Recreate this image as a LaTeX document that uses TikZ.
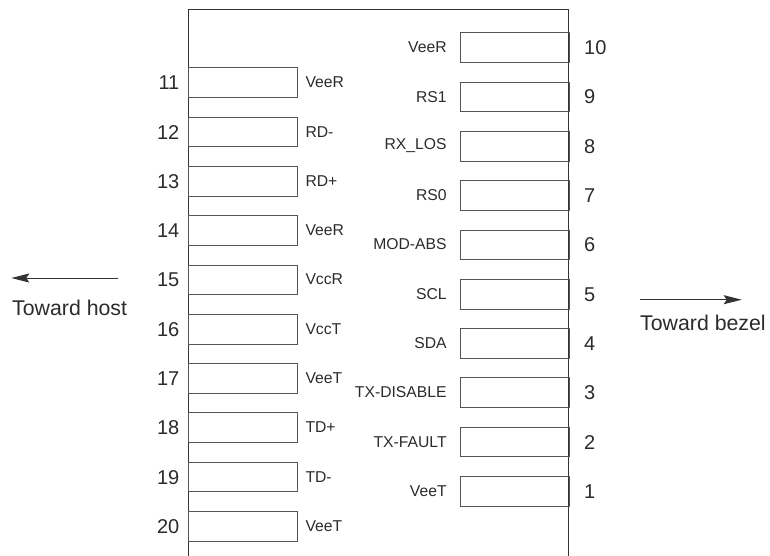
\documentclass[tikz,border=0pt]{standalone}
\usepackage{fontspec}
\setmainfont{Liberation Sans}
\usetikzlibrary{arrows.meta}
\definecolor{linec}{HTML}{333333}
\definecolor{boxc}{HTML}{555555}
\definecolor{textc}{HTML}{2B2B2B}
\tikzset{
  pinbox/.style={draw=boxc, line width=0.9pt, minimum width=#1, minimum height=29.7pt, inner sep=0pt, anchor=north west},
  lbl/.style={text=textc, font=\fontsize{15.7}{18}\selectfont, inner sep=0pt},
  num/.style={text=textc, font=\fontsize{20}{24}\selectfont, inner sep=0pt},
  dirtext/.style={text=textc, font=\fontsize{21.3}{24}\selectfont, inner sep=0pt, anchor=base west},
  dirarrow/.style={draw=linec, line width=1pt, -{Stealth[length=18pt,width=9pt,inset=3pt]}}
}
\begin{document}
\begin{tikzpicture}[x=1pt,y=-1pt]
\useasboundingbox (0,0) rectangle (770,555);
% housing
\coordinate (hBL) at (188.3,556);
\coordinate (hTL) at (188.3,9.3);
\coordinate (hTR) at (568.7,9.3);
\coordinate (hBR) at (568.7,556);
\draw[linec, line width=1pt] (hBL) -- (hTL) -- (hTR) -- (hBR);
% left pins 11..20
\foreach \n/\l [count=\i from 0] in {11/VeeR,12/RD-,13/RD+,14/VeeR,15/VccR,16/VccT,17/VeeT,18/TD+,19/TD-,20/VeeT}{
  \pgfmathsetmacro{\yy}{67.3+49.3*\i}
  \node[pinbox=108.7pt] (L\n) at (188.3,\yy) {};
  \node[lbl, anchor=west] (LL\n) at (305.3,\yy+15) {\l};
  \node[num, anchor=east] (LN\n) at (179.5,\yy+15.5) {\n};
}
% right pins 10..1
\foreach \n/\l [count=\i from 0] in {10/VeeR,9/RS1,8/RX\_LOS,7/RS0,6/MOD-ABS,5/SCL,4/SDA,3/TX-DISABLE,2/TX-FAULT,1/VeeT}{
  \pgfmathsetmacro{\yy}{32.3+49.3*\i}
  \node[pinbox=108.7pt] (R\n) at (460,\yy) {};
  \node[lbl, anchor=east] (RL\n) at (446.8,\yy+15) {\l};
  \node[num, anchor=west] (RN\n) at (584,\yy+15.5) {\n};
}
% direction arrows
\coordinate (hostS) at (118.3,278);
\coordinate (hostE) at (11.3,278);
\draw[dirarrow] (hostS) -- (hostE);
\node[dirtext] (host) at (12,315) {Toward host};
\coordinate (bezS) at (640,299.7);
\coordinate (bezE) at (741.7,299.7);
\draw[dirarrow] (bezS) -- (bezE);
\node[dirtext] (bezel) at (640,330.7) {Toward bezel};
\end{tikzpicture}
\end{document}
